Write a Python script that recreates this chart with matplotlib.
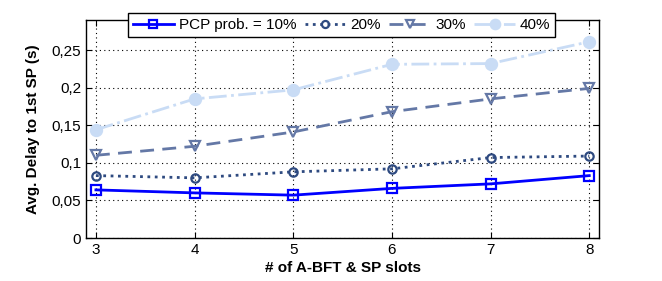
import matplotlib

matplotlib.use("Agg")
import matplotlib.pyplot as plt
from matplotlib.ticker import FuncFormatter

plt.rcParams["font.family"] = ["Liberation Sans", "DejaVu Sans"]

slots = [3, 4, 5, 6, 7, 8]
delay_10 = [0.064, 0.060, 0.057, 0.066, 0.072, 0.083]
delay_20 = [0.083, 0.080, 0.088, 0.092, 0.107, 0.109]
delay_30 = [0.110, 0.122, 0.141, 0.168, 0.185, 0.199]
delay_40 = [0.144, 0.185, 0.197, 0.231, 0.232, 0.261]
series_labels = ["PCP prob. = 10%", "20%", "30%", "40%"]
y_ticks = [0, 0.05, 0.1, 0.15, 0.2, 0.25]

fig = plt.figure(figsize=(6.62, 2.81), dpi=100)
ax = fig.add_axes([0.130, 0.153, 0.775, 0.776])

styles = [
    dict(color="#0000FF", linestyle="-", marker="s", markersize=7, markerfacecolor="none"),
    dict(color="#2E4A80", linestyle=":", marker="o", markersize=6, markerfacecolor="none"),
    dict(color="#6478A6", linestyle=(0, (5, 3)), marker="v", markersize=7, markerfacecolor="none"),
    dict(color="#C9DCF5", linestyle="-.", marker="o", markersize=8, markerfacecolor="#C9DCF5"),
]
for values, label, style in zip([delay_10, delay_20, delay_30, delay_40], series_labels, styles):
    ax.plot(slots, values, label=label, linewidth=2, markeredgewidth=1.6, **style)

ax.set_xlim(2.9, 8.1)
ax.set_ylim(0, 0.29)
ax.set_xticks(slots)
ax.set_yticks(y_ticks)
ax.yaxis.set_major_formatter(FuncFormatter(lambda v, _: f"{v:g}".replace(".", ",")))
ax.grid(True, color="black", linestyle=(0, (1, 3)), linewidth=0.8)
ax.tick_params(direction="in", top=True, right=True, labelsize=11, length=4)
for spine in ax.spines.values():
    spine.set_linewidth(1.0)

ax.set_xlabel("# of A-BFT & SP slots", fontsize=11, fontweight="bold", labelpad=3)
ax.set_ylabel("Avg. Delay to 1st SP (s)", fontsize=11, fontweight="bold", labelpad=8)

legend = ax.legend(
    loc="center",
    bbox_to_anchor=(0.498, 0.977),
    ncol=4,
    fontsize=11,
    frameon=True,
    fancybox=False,
    edgecolor="black",
    framealpha=1,
    handlelength=2.7,
    columnspacing=0.55,
    handletextpad=0.3,
    borderpad=0.3,
    markerscale=0.85,
)
legend.get_frame().set_linewidth(1.0)

fig.savefig("out.png", dpi=100)
